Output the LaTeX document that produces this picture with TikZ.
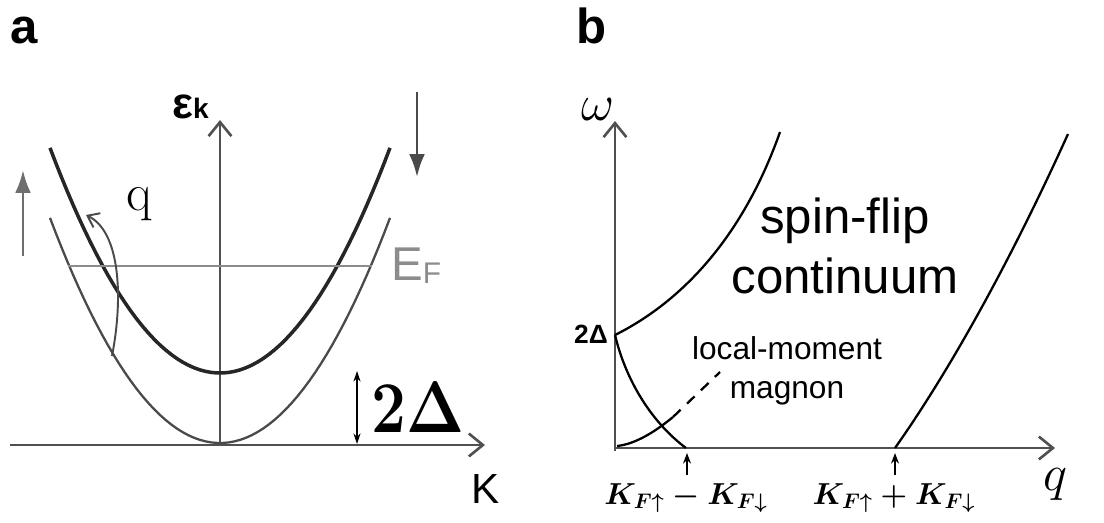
\documentclass[tikz,border=0pt]{standalone}
\usepackage{amsmath, amssymb}
\usepackage{graphicx}
\usepackage{fontspec}
\setsansfont{Liberation Sans}
\usepackage{xcolor}
\usepackage{tikz}
\usetikzlibrary{arrows.meta}
\definecolor{AxisGray}{HTML}{505050}
\definecolor{FermiGray}{HTML}{8c8c8c}
\definecolor{BandGray}{HTML}{4a4a4a}
\definecolor{SpinGray}{HTML}{6e6e6e}

\begin{document}
\begin{tikzpicture}[
    x=0.02cm, y=-0.02cm,
    axis/.style={line width=1.5pt, color=AxisGray, -{Straight Barb[length=8pt, width=13pt, line width=1.5pt]}},
    bandup/.style={line width=1.3pt, color=BandGray},
    banddown/.style={line width=2pt, color=black!85},
    fermiline/.style={line width=1.3pt, color=FermiGray},
    spinarrow/.style={line width=1.6pt, -{Latex[length=13pt, width=9pt]}},
    gaparrow/.style={line width=0.8pt, {Stealth[length=6pt, width=4pt]}-{Stealth[length=6pt, width=4pt]}},
    branch/.style={line width=1.3pt, color=black},
    tick/.style={line width=1.2pt, -{Stealth[length=6pt, width=4.5pt]}},
    panel/.style={font=\fontsize{28}{28}\selectfont\sffamily\bfseries, inner sep=0pt},
    axlabel/.style={font=\sffamily, inner sep=0pt},
    mathlabel/.style={inner sep=0pt, font=\fontsize{20}{20}\selectfont}
]
\useasboundingbox (0,0) rectangle (1104,522);

% panel a
\node[panel, anchor=base west] (lblA) at (10,43) {a};
\coordinate (oA) at (220,445);
\draw[axis] (10,445) -- (485,445) coordinate (kend);
\draw[axis] (oA) -- (220,120) coordinate (eend);
\node[axlabel, anchor=base west, font=\sffamily\bfseries] (epsk) at (172,118)
    {{\fontsize{25}{25}\selectfont ε}{\fontsize{16}{16}\selectfont k}};
\node[axlabel, anchor=base west, font=\fontsize{24}{24}\selectfont\sffamily] (kname) at (471,503) {K};

\draw[bandup] plot[domain=50:390, samples=60] (\x, {443-0.779*((\x-220)/10)^2});
\draw[banddown] plot[domain=50:390, samples=60] (\x, {373-0.779*((\x-220)/10)^2});

\coordinate (fL) at (68,266);
\coordinate (fR) at (372,266);
\draw[fermiline] (fL) -- (fR);
\node[axlabel, anchor=base west, text=FermiGray] (fermi) at (391,280)
    {{\fontsize{27}{27}\selectfont E}\raisebox{-2pt}{\fontsize{17}{17}\selectfont F}};

\draw[spinarrow, SpinGray] (23,256) -- (23,170) coordinate (upend);
\draw[spinarrow, BandGray] (417,92) -- (417,177) coordinate (downend);

\coordinate (qstart) at (112,356);
\coordinate (qend) at (86,215);
\draw[line width=1.1pt, color=BandGray, -{Straight Barb[length=6pt, width=9pt]}]
    (qstart) .. controls (123,300) and (121,232) .. (qend);
\node[inner sep=0pt, font=\fontsize{30}{30}\selectfont] (qname) at (139,204) {q};

\coordinate (gapTop) at (357,371);
\coordinate (gapBot) at (357,444);
\draw[gaparrow] (gapBot) -- (gapTop);
\node[mathlabel, font=\fontsize{20}{20}\selectfont\boldmath] (gapA) at (418,407) {\scalebox{1.7}[2]{$2\Delta$}};

% panel b
\node[panel, anchor=base west] (lblB) at (576,43) {b};
\coordinate (oB) at (615,448);
\draw[axis] (oB) -- (1055,448) coordinate (qend2);
\draw[axis] (615,451) -- (615,121) coordinate (wend);
\node[mathlabel] (omega) at (598,110) {\scalebox{1.4}{$\omega$}};
\node[mathlabel] (qaxis) at (1055,484) {\scalebox{1.4}{$q$}};

\coordinate (gapB) at (615,335);
\node[inner sep=0pt, font=\fontsize{15}{15}\selectfont\sffamily\bfseries] (gapBlbl) at (591,334) {2Δ};

\coordinate (kminus) at (686,448);
\coordinate (kplus) at (895,448);
\draw[branch] (gapB) .. controls (675,305) and (740,245) .. (780,132);
\draw[branch] (gapB) .. controls (627,385) and (655,425) .. (kminus);
\draw[branch] (kplus) .. controls (950,370) and (1010,262) .. (1068,134);

\coordinate (magA) at (617,446);
\coordinate (magB) at (673,417);
\coordinate (magC) at (720,372);
\draw[branch] (magA) .. controls (636,444) and (656,431) .. (magB);
\draw[branch, dash pattern=on 6pt off 5pt] (magB) -- (magC);

\draw[tick] (687,475) -- (687,453);
\draw[tick] (895,475) -- (895,453);
\node[inner sep=0pt, font=\fontsize{17.5}{17.5}\selectfont\boldmath] (kdiff) at (686,498) {$K_{F\uparrow}-K_{F\downarrow}$};
\node[inner sep=0pt, font=\fontsize{17.5}{17.5}\selectfont\boldmath] (ksum) at (894,498) {$K_{F\uparrow}+K_{F\downarrow}$};

\node[align=center, inner sep=0pt, font=\fontsize{28}{34}\selectfont\sffamily] (cont) at (845,246) {spin-flip\\continuum};
\node[align=center, inner sep=0pt, font=\fontsize{18}{22}\selectfont\sffamily] (magnon) at (787,371) {local-moment\\magnon};

\end{tikzpicture}
\end{document}
